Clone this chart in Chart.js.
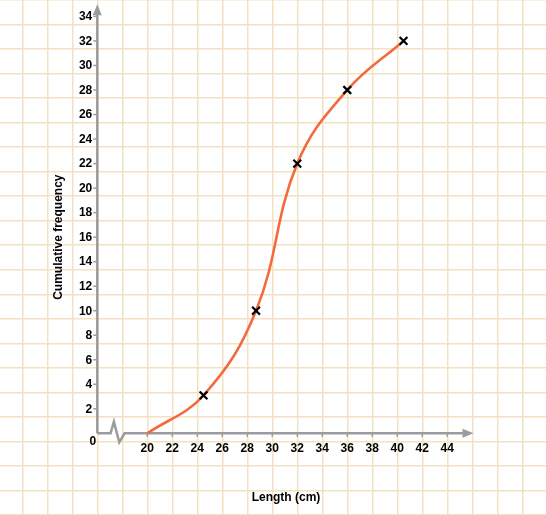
<!DOCTYPE html>
<html>
<head>
<meta charset="utf-8">
<script src="https://cdn.jsdelivr.net/npm/chart.js@4.4.1/dist/chart.umd.min.js"></script>
<style>
  html, body { margin: 0; padding: 0; background: #fff; }
  #wrap { width: 546px; height: 515px; position: relative; }
</style>
</head>
<body>
<div id="wrap"><canvas id="grafica"></canvas></div>
<script>
const lengths = [20, 24.5, 28.7, 32, 36, 40.5];
const cumFreq = [0, 3.1, 10, 22, 28, 32];
const markerSize = [0, 5.5, 5.5, 5.5, 5.5, 5.5];
const xTicks = [20, 22, 24, 26, 28, 30, 32, 34, 36, 38, 40, 42, 44];
const yTicks = [2, 4, 6, 8, 10, 12, 14, 16, 18, 20, 22, 24, 26, 28, 30, 32, 34];
const xTitle = 'Length (cm)';
const yTitle = 'Cumulative frequency';

const font = 'bold 12px "Liberation Sans", Arial, sans-serif';
const axisColor = '#9b9b9b';

// ejes con flechas, corte en el eje x, marcas y etiquetas
const ejes = {
  id: 'ejes',
  beforeDatasetsDraw(chart) {
    const { ctx, scales: { x, y } } = chart;
    const x0 = x.getPixelForValue(16), y0 = y.getPixelForValue(0);
    const yTop = y.getPixelForValue(35), xEnd = x.getPixelForValue(46.1);
    ctx.save();
    ctx.strokeStyle = axisColor;
    ctx.fillStyle = axisColor;
    ctx.lineWidth = 2.5;
    ctx.lineJoin = 'miter';

    ctx.beginPath();
    ctx.moveTo(x0, y0);
    ctx.lineTo(x0, yTop + 9);
    ctx.stroke();
    ctx.beginPath();
    ctx.moveTo(x0, yTop);
    ctx.lineTo(x0 - 4.5, yTop + 11);
    ctx.lineTo(x0 + 4.5, yTop + 11);
    ctx.closePath();
    ctx.fill();

    ctx.beginPath();
    ctx.moveTo(x0, y0);
    ctx.lineTo(x0 + 13.3, y0);
    ctx.lineTo(x0 + 16.6, y0 - 11.6);
    ctx.lineTo(x0 + 22, y0 + 9);
    ctx.lineTo(x0 + 27.3, y0);
    ctx.lineTo(xEnd - 9, y0);
    ctx.stroke();
    ctx.beginPath();
    ctx.moveTo(xEnd, y0);
    ctx.lineTo(xEnd - 11, y0 - 4.5);
    ctx.lineTo(xEnd - 11, y0 + 4.5);
    ctx.closePath();
    ctx.fill();

    ctx.lineWidth = 1.5;
    yTicks.forEach(v => {
      const py = y.getPixelForValue(v);
      ctx.beginPath();
      ctx.moveTo(x0 - 4, py);
      ctx.lineTo(x0, py);
      ctx.stroke();
    });
    xTicks.forEach(v => {
      const px = x.getPixelForValue(v);
      ctx.beginPath();
      ctx.moveTo(px, y0);
      ctx.lineTo(px, y0 + 3.5);
      ctx.stroke();
    });
    ctx.restore();
  },
  afterDraw(chart) {
    const { ctx, scales: { x, y } } = chart;
    const x0 = x.getPixelForValue(16), y0 = y.getPixelForValue(0);
    ctx.save();
    ctx.fillStyle = '#000';
    ctx.font = font;
    ctx.textAlign = 'right';
    ctx.textBaseline = 'middle';
    yTicks.forEach(v => ctx.fillText(String(v), x0 - 5, y.getPixelForValue(v) + 0.5));
    ctx.fillText('0', x0 - 1, y0 + 8.5);
    ctx.textAlign = 'center';
    xTicks.forEach(v => ctx.fillText(String(v), x.getPixelForValue(v), y0 + 15.5));
    ctx.fillText(xTitle, x.getPixelForValue(31.1), y.getPixelForValue(-5.22));
    ctx.translate(x.getPixelForValue(12.9), y.getPixelForValue(16));
    ctx.rotate(-Math.PI / 2);
    ctx.fillText(yTitle, 0, 0);
    ctx.restore();
  }
};

const ctx = document.getElementById('grafica');

new Chart(ctx, {
  type: 'line',
  data: {
    datasets: [{
      label: 'Cumulative frequency',
      data: lengths.map((v, i) => ({ x: v, y: cumFreq[i] })),
      borderColor: '#f36b3d',
      borderWidth: 2.6,
      tension: 0.4,
      pointStyle: 'crossRot',
      pointRadius: markerSize,
      pointBorderColor: '#000',
      pointBackgroundColor: '#000',
      pointBorderWidth: 2.2,
      fill: false,
    }]
  },
  options: {
    responsive: true,
    maintainAspectRatio: false,
    animation: false,
    layout: { padding: 0, autoPadding: false },
    plugins: {
      legend: { display: false },
      tooltip: { enabled: false }
    },
    scales: {
      x: {
        type: 'linear',
        min: 8.216,
        max: 51.9,
        grid: { color: '#f3e2c1', lineWidth: 1.5, drawTicks: false },
        ticks: { display: false, stepSize: 2, includeBounds: false },
        border: { display: false }
      },
      y: {
        type: 'linear',
        min: -6.66,
        max: 35.34,
        grid: { color: '#f3e2c1', lineWidth: 1.5, drawTicks: false },
        ticks: { display: false, stepSize: 2, includeBounds: false },
        border: { display: false }
      }
    }
  },
  plugins: [ejes]
});
</script>
</body>
</html>
